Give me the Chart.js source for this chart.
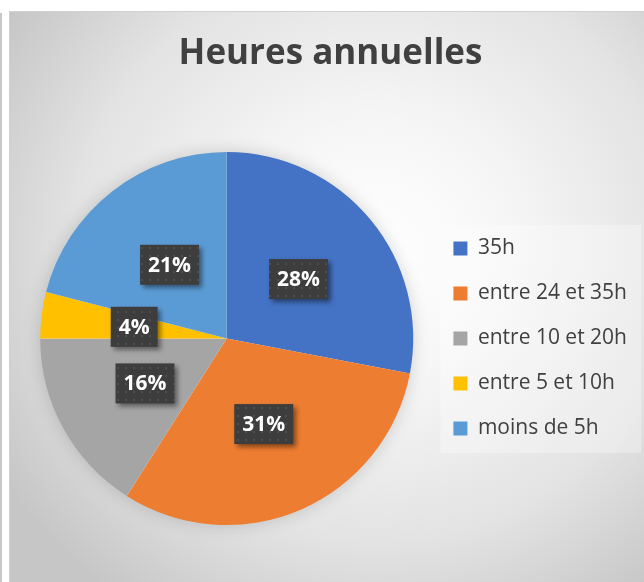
<!DOCTYPE html>
<html>
<head>
<meta charset="utf-8">
<script src="https://cdn.jsdelivr.net/npm/chart.js@4.4.1/dist/chart.umd.min.js"></script>
<style>
  html, body { margin: 0; padding: 0; background: #fff; width: 644px; height: 582px; overflow: hidden; }
  #leftBar { position: absolute; left: 0; top: 13px; width: 2px; height: 569px; background: #c8c8c8; }
  #frame {
    position: absolute; left: 9px; top: 11px; width: 635px; height: 571px;
    border-top: 1px solid #d0d0d0; border-left: 1px solid #d0d0d0; box-sizing: border-box;
    background: radial-gradient(ellipse 70% 75% at 58% 42%, #ffffff 0%, #f6f6f6 30%, #e3e3e3 68%, #c6c6c6 100%);
  }
  canvas { position: absolute; left: 0; top: 0; }
</style>
</head>
<body>
<div id="leftBar"></div>
<div id="frame"><canvas id="pieChart" width="634" height="570"></canvas></div>
<script>
// Data
const categories = ['35h', 'entre 24 et 35h', 'entre 10 et 20h', 'entre 5 et 10h', 'moins de 5h'];
const shares = [28, 31, 16, 4, 21];
const sliceColors = ['#4472C4', '#ED7D31', '#A5A5A5', '#FFC000', '#5B9BD5'];

// Dotted dark fill used behind the percentage labels
function makeDotPattern(ctx) {
    const c = document.createElement('canvas');
    c.width = 8; c.height = 8;
    const p = c.getContext('2d');
    p.fillStyle = '#3d3d3d';
    p.fillRect(0, 0, 8, 8);
    p.fillStyle = '#4d4d4d';
    p.fillRect(3, 3, 2, 2);
    return ctx.createPattern(c, 'repeat');
}

// Pale panel behind the legend (drawn before the legend itself)
const legendPanel = {
    id: 'legendPanel',
    beforeDraw(chart) {
        const boxes = chart.legend && chart.legend.legendHitBoxes;
        if (!boxes || !boxes.length) return;
        const ctx = chart.ctx;
        const left = Math.min(...boxes.map(b => b.left)) - 13;
        const top = Math.min(...boxes.map(b => b.top)) - 13;
        const right = Math.max(...boxes.map(b => b.left + b.width)) + 14;
        const bottom = Math.max(...boxes.map(b => b.top + b.height)) + 14;
        ctx.save();
        ctx.fillStyle = 'rgba(255,255,255,0.3)';
        ctx.fillRect(left, top, right - left, bottom - top);
        ctx.restore();
    }
};

// Soft shadow under the whole pie
const pieShadow = {
    id: 'pieShadow',
    beforeDatasetsDraw(chart) {
        const arc = chart.getDatasetMeta(0).data[0];
        if (!arc) return;
        const ctx = chart.ctx;
        ctx.save();
        ctx.shadowColor = 'rgba(0,0,0,0.18)';
        ctx.shadowBlur = 18;
        ctx.fillStyle = '#ffffff';
        ctx.beginPath();
        ctx.arc(arc.x, arc.y, arc.outerRadius - 1, 0, Math.PI * 2);
        ctx.fill();
        ctx.restore();
    }
};

// Percentage labels in dark boxes at the middle of each slice
const boxLabels = {
    id: 'boxLabels',
    afterDatasetsDraw(chart) {
        const ctx = chart.ctx;
        const total = shares.reduce((a, b) => a + b, 0);
        const pattern = makeDotPattern(ctx);
        ctx.save();
        ctx.font = 'bold 21px "Open Sans"';
        ctx.textAlign = 'center';
        ctx.textBaseline = 'middle';
        chart.getDatasetMeta(0).data.forEach((arc, i) => {
            const pos = arc.tooltipPosition();
            const text = Math.round(shares[i] * 100 / total) + '%';
            const w = ctx.measureText(text).width + 16;
            const h = 40;
            ctx.save();
            ctx.shadowColor = 'rgba(0,0,0,0.45)';
            ctx.shadowBlur = 5;
            ctx.shadowOffsetX = 3;
            ctx.shadowOffsetY = 3;
            ctx.fillStyle = pattern;
            ctx.fillRect(pos.x - w / 2, pos.y - h / 2, w, h);
            ctx.restore();
            ctx.fillStyle = '#ffffff';
            ctx.fillText(text, pos.x, pos.y + 1);
        });
        ctx.restore();
    }
};

const ctx = document.getElementById('pieChart').getContext('2d');
const pieChart = new Chart(ctx, {
    type: 'pie',
    data: {
        labels: categories,
        datasets: [{
            data: shares,
            backgroundColor: sliceColors,
            borderWidth: 0
        }]
    },
    options: {
        responsive: false,
        animation: false,
        layout: { padding: { left: 14, right: 7, top: 0, bottom: 57 } },
        plugins: {
            title: {
                display: true,
                text: 'Heures annuelles',
                color: '#404040',
                font: { family: '"Open Sans"', size: 35, weight: 'bold' },
                padding: { top: 21, bottom: 77 }
            },
            legend: {
                position: 'right',
                // empty legend title only pushes the items down to the pie's middle
                title: {
                    display: true,
                    text: ' ',
                    font: { size: 10 },
                    padding: { top: 64, bottom: 64 }
                },
                labels: {
                    color: '#404040',
                    font: { family: '"Open Sans"', size: 21 },
                    boxWidth: 14,
                    boxHeight: 14,
                    padding: 24
                }
            },
            tooltip: { enabled: false }
        }
    },
    plugins: [legendPanel, pieShadow, boxLabels]
});
</script>
</body>
</html>
